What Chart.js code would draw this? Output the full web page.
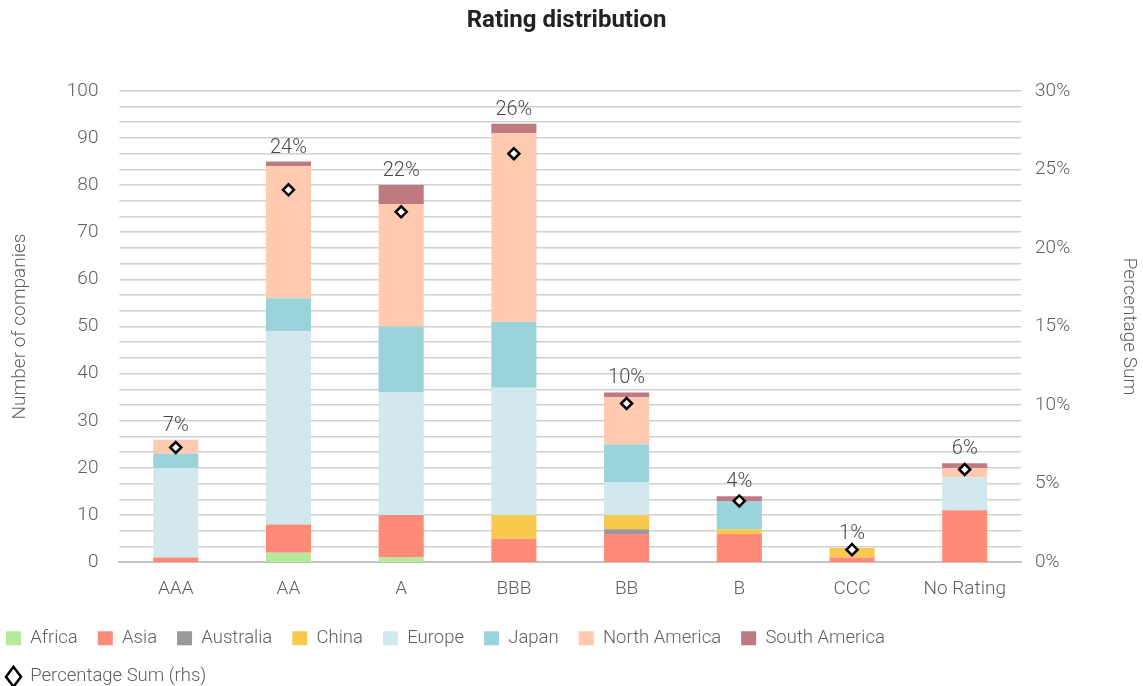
<!DOCTYPE html>
<html>
<head>
<meta charset="utf-8">
<script src="https://cdn.jsdelivr.net/npm/chart.js@4/dist/chart.umd.min.js"></script>
<style>
  html, body { margin: 0; padding: 0; background: #fff; }
  #wrap { width: 1143px; height: 686px; position: relative; }
</style>
</head>
<body>
<div id="wrap"><canvas id="c"></canvas></div>
<script>
// ===== Rating distribution — stacked counts by region + share of total =====
const ratings = ['AAA', 'AA', 'A', 'BBB', 'BB', 'B', 'CCC', 'No Rating'];

const africa       = [0, 2, 1, 0, 0, 0, 0, 0];
const asia         = [1, 6, 9, 5, 6, 6, 1, 11];
const australia    = [0, 0, 0, 0, 1, 0, 0, 0];
const china        = [0, 0, 0, 5, 3, 1, 2, 0];
const europe       = [19, 41, 26, 27, 7, 0, 0, 7];
const japan        = [3, 7, 14, 14, 8, 6, 0, 0];
const northAmerica = [3, 28, 26, 40, 10, 0, 0, 2];
const southAmerica = [0, 1, 4, 2, 1, 1, 0, 1];

const pctSum = [7.3, 23.7, 22.3, 26.0, 10.1, 3.9, 0.8, 5.9];

const FONT = 'Roboto';
const txtCol = '#5f5f5f';
const gridCol = '#cfcfcf';

const regions = [
  { label: 'Africa',        data: africa,       color: '#b3eb9b' },
  { label: 'Asia',          data: asia,         color: '#ff8a78' },
  { label: 'Australia',     data: australia,    color: '#999999' },
  { label: 'China',         data: china,        color: '#f9c84e' },
  { label: 'Europe',        data: europe,       color: '#d1e9ee' },
  { label: 'Japan',         data: japan,        color: '#9bd3da' },
  { label: 'North America', data: northAmerica, color: '#ffcab0' },
  { label: 'South America', data: southAmerica, color: '#be7a80' }
];

// percent text above each stack
const stackLabels = {
  id: 'stackLabels',
  afterDatasetsDraw(chart) {
    const top = chart.getDatasetMeta(regions.length - 1);
    const ctx = chart.ctx;
    ctx.save();
    ctx.font = `300 20px ${FONT}`;
    ctx.fillStyle = '#4a4a4a';
    ctx.textAlign = 'center';
    ctx.textBaseline = 'bottom';
    top.data.forEach((el, i) => {
      ctx.fillText(Math.round(pctSum[i]) + '%', el.x, el.y - 4);
    });
    ctx.restore();
  }
};

// pull the legend to the page's left edge like the original (keep the same wrap width)
const legendLeft = {
  id: 'legendLeft',
  afterLayout(chart) { chart.legend.left -= 18; chart.legend.right -= 18; }
};

const tickFont = { family: FONT, size: 19, weight: 300 };

new Chart(document.getElementById('c'), {
  data: {
    labels: ratings,
    datasets: [
      ...regions.map(r => ({
        type: 'bar', label: r.label, data: r.data,
        backgroundColor: r.color, borderWidth: 0,
        pointStyle: 'rect', order: 1,
        yAxisID: 'y', barPercentage: 0.8, categoryPercentage: 0.5
      })),
      {
        type: 'line', label: 'Percentage Sum (rhs)', data: pctSum,
        yAxisID: 'y1', showLine: false, order: 0,
        pointStyle: 'rectRot', pointRadius: 5.5, pointHoverRadius: 5.5,
        borderColor: '#000', backgroundColor: '#fff', borderWidth: 2.5
      }
    ]
  },
  options: {
    responsive: true, maintainAspectRatio: false, animation: false,
    layout: { padding: { left: 4, right: 14, top: 0, bottom: -10 } },
    plugins: {
      title: {
        display: true, text: 'Rating distribution', color: '#222',
        font: { family: FONT, size: 24, weight: 'bold' },
        padding: { top: 7, bottom: 55 }
      },
      legend: {
        position: 'bottom', align: 'start',
        labels: {
          usePointStyle: true, boxHeight: 14, pointStyleWidth: 15,
          color: txtCol, padding: 20,
          font: { family: FONT, size: 18.5, weight: 300 },
          sort: (a, b) => a.datasetIndex - b.datasetIndex
        }
      },
      tooltip: { enabled: false }
    },
    scales: {
      x: {
        stacked: true,
        grid: { display: false },
        border: { color: '#c4c4c4', width: 2 },
        ticks: { color: txtCol, font: tickFont, padding: 8 }
      },
      y: {
        stacked: true, position: 'left', min: 0, max: 100,
        grid: { display: false }, border: { display: false },
        ticks: { stepSize: 10, color: txtCol, font: tickFont, padding: 13 },
        title: { display: true, text: 'Number of companies', color: txtCol, font: tickFont, padding: { top: 5, bottom: 22 } }
      },
      y1: {
        position: 'right', min: 0, max: 30,
        grid: { color: gridCol, lineWidth: 1.5, drawTicks: false }, border: { display: false },
        ticks: {
          stepSize: 1, autoSkip: false, color: txtCol, padding: 14,
          font: tickFont,
          callback: v => v % 5 === 0 ? v + '%' : ''
        },
        title: { display: true, text: 'Percentage Sum', color: txtCol, font: tickFont, padding: { top: -11, bottom: 33 } }
      }
    }
  },
  plugins: [stackLabels, legendLeft]
});
</script>
</body>
</html>
